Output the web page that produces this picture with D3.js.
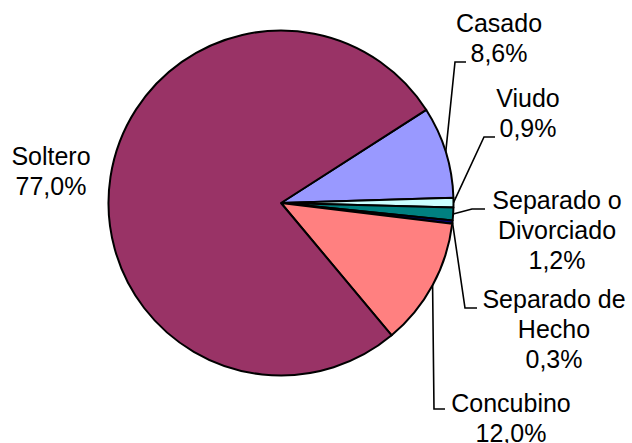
<!DOCTYPE html>
<html>
<head>
<meta charset="utf-8">
<script src="https://cdn.jsdelivr.net/npm/d3@7"></script>
<style>
  html, body { margin: 0; padding: 0; background: #fff; }
  svg { display: block; }
  text { font-family: "Liberation Sans", Arial, sans-serif; font-size: 25px; fill: #000; }
</style>
</head>
<body>
<div id="chart"></div>
<script>
// Data, in drawing order (clockwise from the first slice)
const categories = ["Casado", "Viudo", "Separado o Divorciado", "Separado de Hecho", "Concubino", "Soltero"]
const labelLines = [["Casado"], ["Viudo"], ["Separado o", "Divorciado"], ["Separado de", "Hecho"], ["Concubino"], ["Soltero"]]
const percents = [8.6, 0.9, 1.2, 0.3, 12.0, 77.0]
const colors = ["#9999ff", "#ccffff", "#008080", "#000080", "#ff8080", "#993366"]

// Label layout: text centre, first baseline, leader elbow and end (null = no leader)
const labelLayout = [
  { x: 499, y: 32,  elbow: [455, 62],  end: [466, 62] },
  { x: 528, y: 107, elbow: [484, 137], end: [495, 137] },
  { x: 557, y: 209, elbow: [472, 209], end: [485, 209] },
  { x: 554, y: 308, elbow: [465, 308], end: [477, 308] },
  { x: 511, y: 412, elbow: [434, 409], end: [445, 409] },
  { x: 51,  y: 165, elbow: null, end: null }
]

const width = 632
const height = 443
const cx = 281, cy = 203, radius = 172.5
const startDeg = 57.3
const lineH = 30

const fmt = d3.formatLocale({ decimal: ",", thousands: ".", grouping: [3], currency: ["", ""] }).format(".1f")

const data = categories.map((c, i) => ({ name: c, value: percents[i], color: colors[i], lines: labelLines[i], layout: labelLayout[i] }))

const svg = d3.select("#chart").append("svg")
  .attr("width", width).attr("height", height)

const pie = d3.pie()
  .sort(null)
  .value(d => d.value)
  .startAngle(startDeg * Math.PI / 180)
  .endAngle(startDeg * Math.PI / 180 + 2 * Math.PI)

const arc = d3.arc().innerRadius(0).outerRadius(radius)

const arcs = pie(data)

const g = svg.append("g").attr("transform", `translate(${cx},${cy})`)

g.selectAll("path")
  .data(arcs)
  .join("path")
  .attr("d", arc)
  .attr("fill", d => d.data.color)
  .attr("stroke", "#000")
  .attr("stroke-width", 2)
  .attr("stroke-linejoin", "round")

// Leader lines
const leaders = arcs.filter(d => d.data.layout.elbow)
svg.append("g").selectAll("polyline")
  .data(leaders)
  .join("polyline")
  .attr("fill", "none")
  .attr("stroke", "#000")
  .attr("stroke-width", 1.6)
  .attr("points", d => {
    const a = (d.startAngle + d.endAngle) / 2
    const sx = cx + radius * Math.sin(a)
    const sy = cy - radius * Math.cos(a)
    const L = d.data.layout
    return [[sx, sy], L.elbow, L.end].map(p => p.join(",")).join(" ")
  })

// Labels
const labels = svg.append("g").selectAll("text")
  .data(arcs)
  .join("text")
  .attr("text-anchor", "middle")
  .attr("x", d => d.data.layout.x)
  .attr("y", d => d.data.layout.y)

labels.each(function(d) {
  const t = d3.select(this)
  const lines = d.data.lines.concat([fmt(d.data.value) + "%"])
  lines.forEach((s, i) => {
    t.append("tspan")
      .attr("x", d.data.layout.x)
      .attr("y", d.data.layout.y + i * lineH)
      .text(s)
  })
})
</script>
</body>
</html>
